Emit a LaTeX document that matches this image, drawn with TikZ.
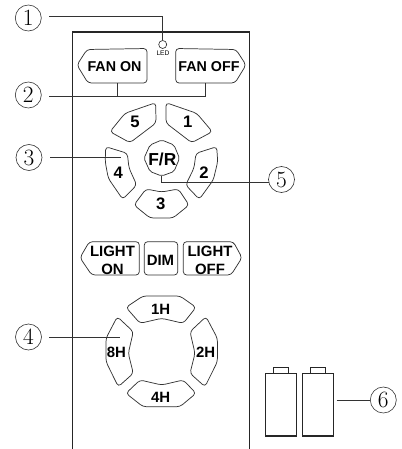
\documentclass[tikz,border=0pt]{standalone}
\usepackage{fontspec}
\setsansfont{Liberation Sans}
\begin{document}
\begin{tikzpicture}[
    x=0.75pt,y=-0.75pt,
    case/.style={line width=0.8pt,black!85},
    button/.style={line width=0.55pt,black!80,rounded corners=2.5pt},
    lead/.style={line width=0.7pt,black!80},
    callout/.style={circle,draw=black!80,line width=0.45pt,inner sep=0pt,minimum size=19.5pt,font=\fontsize{17.5}{17.5}\selectfont},
    btnlabel/.style={font=\sffamily\bfseries\fontsize{11.2}{13}\selectfont,inner sep=0pt,align=center},
    ringlabel/.style={font=\sffamily\bfseries\fontsize{12.5}{12.5}\selectfont,inner sep=0pt}
  ]
  \useasboundingbox (0,0) rectangle (401,449);
  % Draw the remote body.
  \draw[case] (72.7,449) -- (72.7,32) -- (249.3,32) -- (249.3,449);
  \node[circle,draw=black!80,line width=0.5pt,inner sep=0pt,minimum size=6pt] (led) at (162.7,44.5) {};
  \node[font=\sffamily\fontsize{5}{5}\selectfont,inner sep=0pt] (ledtext) at (163,53.5) {LED};
  % Draw the fan buttons.
  \draw[button] (77,65) -- (87,49.5) -- (147,48.5) -- (147,83) -- (88,83) -- cycle;
  \draw[button] (246,65) -- (236,49.5) -- (175.7,48.5) -- (175.7,83) -- (235,83) -- cycle;
  \node[btnlabel,font=\sffamily\bfseries\fontsize{10.7}{13}\selectfont] (fanon) at (114.5,66.5) {FAN ON};
  \node[btnlabel,font=\sffamily\bfseries\fontsize{10.7}{13}\selectfont] (fanoff) at (209,66.5) {FAN OFF};
  % Draw the speed ring.
  \draw[button] (155.7,102.7) -- (156,123) -- (130,142.7) -- (110,131.7) -- (125,113.3) -- cycle;
  \draw[button] (166,102.7) -- (166,123) -- (191.7,142.7) -- (212.3,131.7) -- (196.7,113.3) -- cycle;
  \draw[button] (216.7,146.7) -- (196,153.3) -- (194,168) -- (185.7,185) -- (199.3,199.3) -- (213.3,180) -- (217.7,161.7) -- cycle;
  \draw[button] (105.7,146.7) -- (127.3,153.3) -- (129,168) -- (136.7,185) -- (122.7,199.3) -- (108.3,178.3) -- (105.2,161.7) -- cycle;
  \draw[button] (134,205) -- (146,189) -- (161.7,192) -- (178.3,189) -- (189,205) -- (173,218) -- (150,218) -- cycle;
  \draw[button,rounded corners=1.5pt] (144,158.3) -- (150,145) -- (161.7,140) -- (174,145) -- (179.5,158.3) -- (174,171.5) -- (161.7,176) -- (150,171.5) -- cycle;
  \node[ringlabel] (five) at (135,122.3) {5};
  \node[ringlabel] (one) at (187.7,121.7) {1};
  \node[ringlabel] (two) at (204,172.7) {2};
  \node[ringlabel] (three) at (160.7,203.3) {3};
  \node[ringlabel] (four) at (118.3,172.7) {4};
  \node[ringlabel,font=\sffamily\bfseries\fontsize{13}{13}\selectfont] (fr) at (162.3,159) {F/R};
  % Draw the light buttons.
  \draw[button] (80,257.7) -- (89.3,241.7) -- (139.3,241.7) -- (139.3,275) -- (91.7,275) -- cycle;
  \draw[button] (144.3,241.7) rectangle (177.7,275);
  \draw[button] (242,257.7) -- (233.3,241.7) -- (183.3,241.7) -- (183.3,275) -- (231,275) -- cycle;
  \node[btnlabel] (lighton) at (112.5,260.3) {LIGHT\\ON};
  \node[btnlabel] (dim) at (160.5,260.7) {DIM};
  \node[btnlabel] (lightoff) at (210,260.3) {LIGHT\\OFF};
  % Draw the timer ring.
  \draw[button] (126,307.3) -- (143,296) -- (180,296) -- (196,307.3) -- (183.3,323.3) -- (161.7,318.3) -- (140,323.3) -- cycle;
  \draw[button] (126,393.3) -- (140,380) -- (161.7,385) -- (183.3,380) -- (196,393.3) -- (180,406.7) -- (143,406.7) -- cycle;
  \draw[button] (117.3,316.7) -- (133.3,331.7) -- (128.3,353.3) -- (133.3,373.3) -- (118.3,386.7) -- (106,361.7) -- (106,338.3) -- cycle;
  \draw[button] (206,316.7) -- (190,331.7) -- (195,353.3) -- (190,373.3) -- (205,386.7) -- (217.4,361.7) -- (217.4,338.3) -- cycle;
  \node[btnlabel] (oneh) at (160.7,309.3) {1H};
  \node[btnlabel] (twoh) at (205.7,352.7) {2H};
  \node[btnlabel] (fourh) at (160.7,397.7) {4H};
  \node[btnlabel] (eighth) at (116.3,352.7) {8H};
  % Draw the batteries.
  \draw[case] (265.7,373.3) rectangle (296.7,436);
  \draw[case] (302.3,373.3) rectangle (333.3,436);
  \draw[case] (273.3,373.3) -- (273.3,367.3) -- (288.7,367.3) -- (288.7,373.3);
  \draw[case] (310.3,373.3) -- (310.3,367.3) -- (325.7,367.3) -- (325.7,373.3);
  % Draw the callouts.
  \node[callout] (markone) at (28.3,18) {1};
  \node[callout] (marktwo) at (28.3,95) {2};
  \node[callout] (markthree) at (29,157.5) {3};
  \node[callout] (markfour) at (28.5,337) {4};
  \node[callout] (markfive) at (281.5,179.5) {5};
  \node[callout] (marksix) at (383.3,400) {6};
  % Free ends of the leaders.
  \coordinate (startone) at (49,16);
  \coordinate (starttwo) at (49,96);
  \coordinate (starttimer) at (49,337.3);
  \coordinate (startspeed) at (50,157.7);
  \coordinate (fanonfoot) at (117.7,83);
  \coordinate (fanofffoot) at (205,83);
  \coordinate (speedspot) at (121,157.7);
  \coordinate (timerspot) at (120,337.3);
  \coordinate (frfoot) at (161.3,176);
  \coordinate (fivestart) at (268.5,182);
  \coordinate (cell) at (336.7,400);
  \draw[lead] (startone) -| (led.north);
  \draw[lead] (starttwo) -| (fanofffoot);
  \draw[lead] (starttwo -| fanonfoot) -- (fanonfoot);
  \draw[lead] (startspeed) -- (speedspot);
  \draw[lead] (starttimer) -- (timerspot);
  \draw[lead] (frfoot) |- (fivestart);
  \draw[lead] (cell) -- (marksix.west);
\end{tikzpicture}
\end{document}
